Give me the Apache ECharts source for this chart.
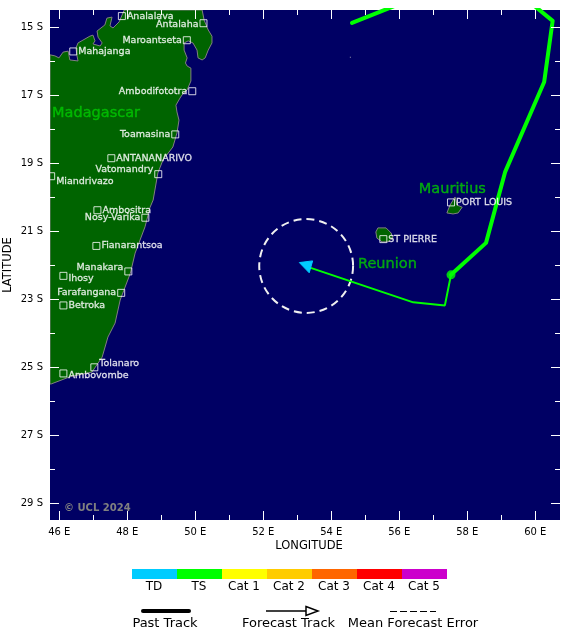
<!DOCTYPE html>
<html lang="en">
<head>
    <meta charset="UTF-8">
    <title>Cyclone track</title>
    <style>
        html, body { margin: 0; padding: 0; background: #fff; }
        #main { width: 580px; height: 639px; }
    </style>
    <script type="text/javascript" src="https://cdn.jsdelivr.net/npm/echarts@6/dist/echarts.min.js"></script>
</head>
<body>
<div id="main"></div>

<script>
    // tick values
    var lonMajor = [46, 48, 50, 52, 54, 56, 58, 60];
    var lonMinor = [47, 49, 51, 53, 55, 57, 59];
    var latMajor = [-15, -17, -19, -21, -23, -25, -27, -29];
    var latMinor = [-16, -18, -20, -22, -24, -26, -28];

    // coastlines, [lon, lat]
    var madagascar = [
        [45.726, -15.81], [45.87, -15.84], [45.99, -15.90], [46.11, -15.73], [46.26, -15.70],
        [46.31, -15.96], [46.55, -15.99], [46.52, -15.84], [46.49, -15.61], [46.55, -15.46],
        [46.90, -15.26], [46.99, -15.23], [47.05, -15.40], [46.99, -15.49], [47.20, -15.55],
        [47.26, -15.46], [47.14, -15.29], [47.11, -15.11], [47.34, -14.93], [47.40, -14.73],
        [47.55, -14.70], [47.49, -14.96], [47.58, -15.02], [47.76, -14.84], [47.91, -14.49],
        [50.20, -14.49], [50.26, -14.79], [50.38, -15.08], [50.49, -15.26], [50.49, -15.46],
        [50.38, -15.67], [50.29, -15.90], [50.20, -15.96], [50.08, -15.90], [50.05, -15.67],
        [49.93, -15.46], [49.79, -15.40], [49.67, -15.46], [49.67, -15.67], [49.76, -15.90],
        [49.71, -16.05], [49.76, -16.14], [49.87, -16.20], [49.87, -16.58], [49.76, -16.84],
        [49.61, -16.99], [49.55, -17.08], [49.43, -17.29], [49.46, -17.49], [49.52, -17.73],
        [49.46, -18.11], [49.34, -18.52], [49.05, -18.90], [48.90, -19.28], [48.76, -20.08],
        [48.67, -20.29], [48.52, -20.87], [48.23, -21.64], [48.09, -22.23], [47.79, -23.02],
        [47.64, -23.70], [47.43, -24.11], [47.26, -24.70], [46.96, -25.14], [46.31, -25.28],
        [45.76, -25.49], [45.726, -25.49]
    ];
    var reunion = [
        [55.31, -21.02], [55.37, -20.90], [55.61, -20.90], [55.76, -21.05],
        [55.81, -21.20], [55.67, -21.31], [55.49, -21.31], [55.34, -21.20]
    ];
    var mauritius = [
        [57.40, -20.46], [57.49, -20.23], [57.64, -19.99], [57.70, -20.23],
        [57.85, -20.29], [57.73, -20.46], [57.58, -20.49]
    ];
    var tromelin = [[54.56, -15.88]];

    // storm
    var pastTrack = [
        [54.61, -14.87], [58.08, -13.49], [59.40, -13.90], [60.51, -14.81],
        [60.26, -16.61], [59.11, -19.26], [58.55, -21.34], [57.52, -22.28]
    ];
    var forecastTrack = [[57.52, -22.28], [57.34, -23.18], [56.41, -23.09], [53.35, -22.06]];
    var currentPosition = [57.52, -22.28];
    var arrowHead = [[53.06, -21.92], [53.45, -21.87], [53.35, -22.22]];
    var errorCentre = [53.26, -22.02];
    var errorRadius = 1.38;

    // towns
    var cityNames = ['Analalava', 'Antalaha', 'Maroantseta', 'Mahajanga', 'Ambodifototra', 'Toamasina',
        'ANTANANARIVO', 'Vatomandry', 'Miandrivazo', 'Ambositra', 'Nosy-Varika', 'Fianarantsoa',
        'Manakara', 'Ihosy', 'Farafangana', 'Betroka', 'Tolanaro', 'Ambovombe', 'PORT LOUIS', 'ST PIERRE'];
    var cityLon = [47.84, 50.24, 49.75, 46.41, 49.91, 49.41, 47.53, 48.91, 45.76, 47.12, 48.53, 47.09,
        48.03, 46.12, 47.82, 46.12, 47.03, 46.12, 57.52, 55.53];
    var cityLat = [-14.67, -14.88, -15.38, -15.71, -16.88, -18.15, -18.85, -19.32, -19.38, -20.38, -20.60, -21.43,
        -22.18, -22.31, -22.81, -23.18, -25.00, -25.18, -20.15, -21.23];

    var regionNames = ['Madagascar', 'Mauritius', 'Reunion'];
    var regionLon = [47.08, 57.56, 55.65];
    var regionLat = [-17.52, -19.77, -21.98];

    // legend
    var catNames = ['TD', 'TS', 'Cat 1', 'Cat 2', 'Cat 3', 'Cat 4', 'Cat 5'];
    var catColors = ['#00ccff', '#00ff00', '#ffff00', '#ffcc00', '#ff6600', '#ff0000', '#cc00cc'];

    // labels on the left of the marker, and small shifts [x, y]
    var labelsLeft = ['Antalaha', 'Maroantseta', 'Ambodifototra', 'Toamasina', 'Vatomandry', 'Nosy-Varika',
        'Manakara', 'Farafangana'];
    var labelShift = {
        'Antalaha': [0, 1], 'Vatomandry': [0, -5], 'Miandrivazo': [0, 5], 'Manakara': [0, -4],
        'Ihosy': [0, 3], 'Tolanaro': [0, -4], 'Ambovombe': [0, 2]
    };

    var font = 'DejaVu Sans';
    var LON_MIN = 45.726, LON_MAX = 60.726, LAT_MIN = -29.491, LAT_MAX = -14.491;

    function xAxisOf(grid, position, ticks, len, name) {
        return {
            type: 'value', gridIndex: grid, position: position, min: LON_MIN, max: LON_MAX, z: 10,
            splitLine: {show: false}, axisLine: {show: false},
            axisTick: {show: true, inside: true, length: len, customValues: ticks, lineStyle: {color: '#fff', width: 1}},
            axisLabel: {
                show: !!name, customValues: ticks, margin: 7, color: '#000', fontFamily: font, fontSize: 10,
                formatter: function (v) { return v + ' E'; }
            },
            name: name || '', nameLocation: 'middle', nameGap: 20, nameMoveOverlap: false,
            nameTextStyle: {color: '#000', fontFamily: font, fontSize: 11.5, padding: [0, 0, 0, 8]}
        };
    }

    function yAxisOf(grid, position, ticks, len, name) {
        return {
            type: 'value', gridIndex: grid, position: position, min: LAT_MIN, max: LAT_MAX, z: 10,
            splitLine: {show: false}, axisLine: {show: false},
            axisTick: {show: true, inside: true, length: len, customValues: ticks, lineStyle: {color: '#fff', width: 1}},
            axisLabel: {
                show: !!name, customValues: ticks, margin: 7, color: '#000', fontFamily: font, fontSize: 10,
                formatter: function (v) { return Math.abs(v) + ' S'; }
            },
            name: name || '', nameLocation: 'middle', nameGap: 36, nameMoveOverlap: false,
            nameTextStyle: {color: '#000', fontFamily: font, fontSize: 11.5}
        };
    }

    function polygonSeries(points, fill, stroke, z) {
        return {
            type: 'custom', coordinateSystem: 'cartesian2d', clip: true, z: z,
            data: [points[0]], silent: true,
            renderItem: function (params, api) {
                return {
                    type: 'polygon',
                    shape: {points: points.map(function (p) { return api.coord(p); })},
                    style: {fill: fill, stroke: stroke, lineWidth: 1}
                };
            }
        };
    }

    var cityData = cityNames.map(function (n, i) {
        return {
            name: n, value: [cityLon[i], cityLat[i]],
            label: {position: labelsLeft.indexOf(n) >= 0 ? 'left' : 'right', offset: labelShift[n] || [0, 0]}
        };
    });

    var regionData = regionNames.map(function (n, i) {
        return {name: n, value: [regionLon[i], regionLat[i]]};
    });

    var graphic = [];
    catNames.forEach(function (n, i) {
        graphic.push({type: 'rect', shape: {x: 132 + i * 45, y: 569, width: 45, height: 10}, style: {fill: catColors[i]}});
        graphic.push({
            type: 'text', x: 154 + i * 45, y: 587,
            style: {text: n, fill: '#000', font: '12px "' + font + '"', textAlign: 'center', textVerticalAlign: 'middle'}
        });
    });
    [['Past Track', 165], ['Forecast Track', 288.5], ['Mean Forecast Error', 413]].forEach(function (t) {
        graphic.push({
            type: 'text', x: t[1], y: 623.5,
            style: {text: t[0], fill: '#000', font: '13px "' + font + '"', textAlign: 'center', textVerticalAlign: 'middle'}
        });
    });
    graphic.push({type: 'line', shape: {x1: 143, y1: 611, x2: 189, y2: 611}, style: {stroke: '#000', lineWidth: 4, lineCap: 'round'}});
    graphic.push({type: 'line', shape: {x1: 266, y1: 611, x2: 306, y2: 611}, style: {stroke: '#000', lineWidth: 1.5}});
    graphic.push({type: 'polygon', shape: {points: [[306, 606.5], [318, 611], [306, 615.5]]}, style: {fill: '#fff', stroke: '#000', lineWidth: 1.5}});
    graphic.push({type: 'line', shape: {x1: 390, y1: 611.5, x2: 436, y2: 611.5}, style: {stroke: '#000', lineWidth: 1, lineDash: [7, 3]}});
    graphic.push({
        type: 'text', x: 64, y: 508, z: 20,
        style: {text: '© UCL 2024', fill: '#808080', font: 'bold 10px "' + font + '"', textVerticalAlign: 'middle'}
    });

    var option = {
        animation: false,
        backgroundColor: '#fff',
        grid: [
            {left: 50, top: 10, width: 510, height: 510, show: true, backgroundColor: '#000064', borderWidth: 0, outerBoundsMode: 'none'},
            {left: 50, top: 10, width: 510, height: 510, outerBoundsMode: 'none'}
        ],
        xAxis: [
            xAxisOf(0, 'bottom', lonMajor, 9, 'LONGITUDE'),
            xAxisOf(0, 'top', lonMajor, 9),
            xAxisOf(1, 'bottom', lonMinor, 5),
            xAxisOf(1, 'top', lonMinor, 5)
        ],
        yAxis: [
            yAxisOf(0, 'left', latMajor, 9, 'LATITUDE'),
            yAxisOf(0, 'right', latMajor, 9),
            yAxisOf(1, 'left', latMinor, 5),
            yAxisOf(1, 'right', latMinor, 5)
        ],
        graphic: graphic,
        series: [
            polygonSeries(madagascar, '#006400', '#808080', 2),
            polygonSeries(reunion, '#006400', '#808080', 2),
            polygonSeries(mauritius, '#006400', '#808080', 2),
            {
                type: 'scatter', data: tromelin, symbol: 'rect', symbolSize: 1, z: 2, silent: true,
                itemStyle: {color: '#c0c0c0'}
            },
            {
                type: 'custom', coordinateSystem: 'cartesian2d', clip: true, z: 3, silent: true,
                data: [errorCentre],
                renderItem: function (params, api) {
                    var c = api.coord(errorCentre);
                    return {
                        type: 'circle',
                        shape: {cx: c[0], cy: c[1], r: api.size([errorRadius, 0])[0]},
                        style: {fill: 'none', stroke: '#f0f0f0', lineWidth: 2, lineDash: [8, 5]}
                    };
                }
            },
            {
                type: 'line', data: pastTrack, showSymbol: false, z: 4, silent: true,
                lineStyle: {color: '#00ff00', width: 4, cap: 'round', join: 'round'}
            },
            {
                type: 'line', data: forecastTrack, showSymbol: false, z: 4, silent: true,
                lineStyle: {color: '#00ff00', width: 2}
            },
            {
                type: 'scatter', data: [currentPosition], symbolSize: 9, z: 5, silent: true,
                itemStyle: {color: '#00ff00'}
            },
            polygonSeries(arrowHead, '#00ccff', '#00ccff', 5),
            {
                type: 'scatter', data: cityData, symbol: 'rect', symbolSize: 7, z: 6, silent: true,
                itemStyle: {color: 'transparent', borderColor: '#fff', borderWidth: 1},
                label: {
                    show: true, formatter: '{b}', distance: 1, color: '#fff',
                    fontFamily: font, fontSize: 9.5, textBorderColor: '#fff', textBorderWidth: 0.3
                }
            },
            {
                type: 'scatter', data: regionData, symbolSize: 0, z: 6, silent: true,
                label: {
                    show: true, position: 'inside', formatter: '{b}', color: '#00c800',
                    fontFamily: font, fontSize: 14.5, textBorderColor: '#00c800', textBorderWidth: 0.4
                }
            }
        ]
    };

    var chart = echarts.init(document.getElementById('main'));
    chart.setOption(option);
</script>
</body>
</html>
